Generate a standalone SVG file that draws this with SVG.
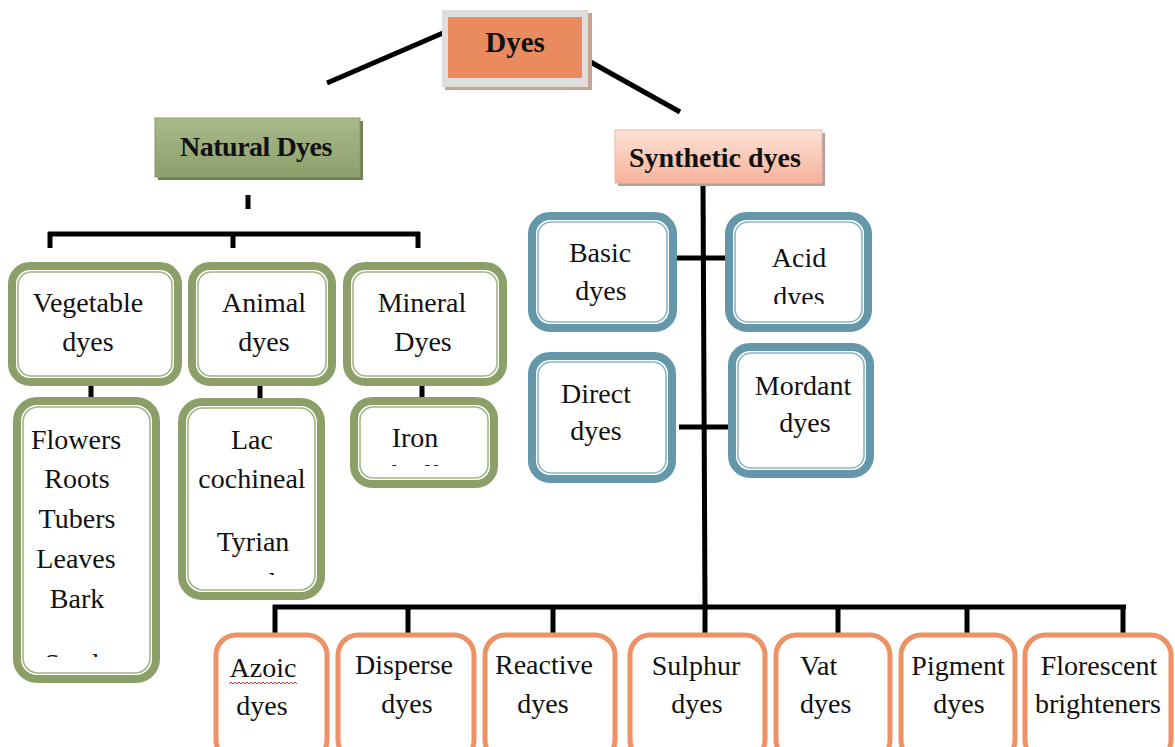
<svg xmlns="http://www.w3.org/2000/svg" width="1175" height="747" viewBox="0 0 1175 747">
<style>
.t{font-family:"Liberation Serif","Times New Roman",serif;font-size:28px;fill:#111;text-anchor:middle}
.ts{font-family:"Liberation Serif","Times New Roman",serif;font-size:28px;fill:#111;text-anchor:start}
.tb{font-family:"Liberation Serif","Times New Roman",serif;font-size:28px;font-weight:bold;fill:#111;text-anchor:middle}
.g{fill:#fff;stroke:#8d9f68;stroke-width:8}
.gi{fill:none;stroke:#a3b385;stroke-width:1.6}
.b{fill:#fff;stroke:#6497a9;stroke-width:8}
.bi{fill:none;stroke:#8ab5c4;stroke-width:1.6}
.o{fill:#fff;stroke:#ee9266;stroke-width:5}
.ln{stroke:#000;stroke-width:5;fill:none}
</style>
<defs>
<linearGradient id="gn" x1="0" y1="0" x2="0" y2="1"><stop offset="0" stop-color="#a9ba8c"/><stop offset="1" stop-color="#8d9f6b"/></linearGradient>
<linearGradient id="gs" x1="0" y1="0" x2="0" y2="1"><stop offset="0" stop-color="#fde3d8"/><stop offset="1" stop-color="#f5b199"/></linearGradient>
<clipPath id="cAcid"><rect x="730" y="220" width="140" height="84"/></clipPath>
<clipPath id="cVeg"><rect x="17" y="401" width="140" height="256"/></clipPath>
<clipPath id="cAni"><rect x="182" y="402" width="140" height="173"/></clipPath>
<clipPath id="cMin"><rect x="354" y="401" width="140" height="65"/></clipPath>
</defs>

<g id="connectors">
<line class="ln" x1="443" y1="33" x2="327" y2="83"/>
<line class="ln" x1="587" y1="60" x2="680" y2="112"/>
<line class="ln" x1="248" y1="195" x2="248" y2="209"/>
<line class="ln" x1="48" y1="234" x2="420" y2="234"/>
<line class="ln" x1="50" y1="232" x2="50" y2="248"/>
<line class="ln" x1="233" y1="232" x2="233" y2="248"/>
<line class="ln" x1="418" y1="232" x2="418" y2="248"/>
<line class="ln" x1="91" y1="383" x2="91" y2="400"/>
<line class="ln" x1="260" y1="383" x2="260" y2="400"/>
<line class="ln" x1="422" y1="383" x2="422" y2="400"/>
<line class="ln" x1="703" y1="183" x2="705" y2="607"/>
<line class="ln" x1="672" y1="258" x2="729" y2="258"/>
<line class="ln" x1="679" y1="427" x2="738" y2="427"/>
<line class="ln" x1="273" y1="607" x2="1126" y2="607"/>
<line class="ln" x1="275" y1="605" x2="275" y2="633"/>
<line class="ln" x1="408" y1="605" x2="408" y2="633"/>
<line class="ln" x1="553" y1="605" x2="553" y2="633"/>
<line class="ln" x1="705" y1="605" x2="705" y2="633"/>
<line class="ln" x1="838" y1="605" x2="838" y2="633"/>
<line class="ln" x1="967" y1="605" x2="967" y2="633"/>
<line class="ln" x1="1123" y1="605" x2="1123" y2="633"/>
</g>

<g id="dyes">
<rect x="445" y="13" width="147" height="77" fill="#c4a594"/>
<rect x="442" y="10" width="146" height="77" fill="#dedede"/>
<rect x="448" y="17" width="134" height="61" fill="#e98a5f"/>
<text class="tb" x="515" y="52" style="font-size:29px">Dyes</text>
</g>

<g id="natural">
<rect x="158" y="121" width="205" height="59" fill="#6f7f52"/>
<rect x="155" y="118" width="205" height="59" fill="url(#gn)" stroke="#88996a" stroke-width="1"/>
<text class="tb" x="256" y="156" letter-spacing="-0.5">Natural Dyes</text>
</g>

<g id="synthetic">
<rect x="618" y="133" width="207" height="53" fill="#b0a29c"/>
<rect x="615" y="130" width="207" height="53" fill="url(#gs)" stroke="#f2b8a2" stroke-width="1"/>
<text class="tb" x="715" y="167">Synthetic dyes</text>
</g>

<g id="vegetable">
<rect class="g" x="12" y="266" width="166" height="116" rx="18"/>
<rect class="gi" x="18" y="272" width="154" height="104" rx="13"/>
<text class="t" x="88" y="312">Vegetable</text>
<text class="t" x="88" y="351">dyes</text>
</g>
<g id="animal">
<rect class="g" x="192" y="266" width="140" height="116" rx="18"/>
<rect class="gi" x="198" y="272" width="128" height="104" rx="13"/>
<text class="t" x="264" y="312">Animal</text>
<text class="t" x="264" y="351">dyes</text>
</g>
<g id="mineral">
<rect class="g" x="347" y="266" width="156" height="116" rx="18"/>
<rect class="gi" x="353" y="272" width="144" height="104" rx="13"/>
<text class="t" x="422" y="312">Mineral</text>
<text class="t" x="423" y="351">Dyes</text>
</g>

<g id="vegetable-list">
<rect class="g" x="17" y="401" width="139" height="278" rx="20"/>
<rect class="gi" x="23" y="407" width="127" height="266" rx="15"/>
<g clip-path="url(#cVeg)">
<text class="t" x="76" y="449">Flowers</text>
<text class="t" x="77" y="488">Roots</text>
<text class="t" x="77" y="528">Tubers</text>
<text class="t" x="76" y="568">Leaves</text>
<text class="t" x="77" y="608">Bark</text>
<text class="t" x="77" y="673">Seeds</text>
</g>
</g>
<g id="animal-list">
<rect class="g" x="182" y="402" width="139" height="194" rx="20"/>
<rect class="gi" x="188" y="408" width="127" height="182" rx="15"/>
<g clip-path="url(#cAni)">
<text class="t" x="252" y="449">Lac</text>
<text class="t" x="252" y="488">cochineal</text>
<text class="t" x="253" y="551">Tyrian</text>
<text class="t" x="253" y="592">purple</text>
</g>
</g>
<g id="mineral-list">
<rect class="g" x="354" y="401" width="140" height="83" rx="18"/>
<rect class="gi" x="360" y="407" width="128" height="71" rx="13"/>
<g clip-path="url(#cMin)">
<text class="t" x="415" y="447">Iron</text>
<text class="t" x="415" y="484">buff</text>
</g>
</g>

<g id="basic">
<rect class="b" x="532" y="216" width="141" height="112" rx="18"/>
<rect class="bi" x="538" y="222" width="129" height="100" rx="13"/>
<text class="t" x="600" y="262">Basic</text>
<text class="t" x="601" y="300">dyes</text>
</g>
<g id="acid">
<rect class="b" x="729" y="216" width="139" height="112" rx="18"/>
<rect class="bi" x="735" y="222" width="127" height="100" rx="13"/>
<g clip-path="url(#cAcid)">
<text class="t" x="799" y="267">Acid</text>
<text class="t" x="799" y="306">dyes</text>
</g>
</g>
<g id="direct">
<rect class="b" x="532" y="356" width="140" height="123" rx="18"/>
<rect class="bi" x="538" y="362" width="128" height="111" rx="13"/>
<text class="t" x="596" y="403">Direct</text>
<text class="t" x="596" y="440">dyes</text>
</g>
<g id="mordant">
<rect class="b" x="732" y="347" width="138" height="127" rx="18"/>
<rect class="bi" x="738" y="353" width="126" height="115" rx="13"/>
<text class="t" x="803" y="395">Mordant</text>
<text class="t" x="805" y="432">dyes</text>
</g>

<g id="azoic">
<rect class="o" x="216" y="635" width="111" height="125" rx="20"/>
<text class="t" x="263" y="677">Azoic</text>
<path d="M229 684 l2 -2 l2 2 l2 -2 l2 2 l2 -2 l2 2 l2 -2 l2 2 l2 -2 l2 2 l2 -2 l2 2 l2 -2 l2 2 l2 -2 l2 2 l2 -2 l2 2 l2 -2 l2 2 l2 -2 l2 2 l2 -2 l2 2 l2 -2 l2 2 l2 -2 l2 2 l2 -2 l2 2 l2 -2 l2 2 l2 -2 l2 2" fill="none" stroke="#e03a3a" stroke-width="1"/>
<text class="t" x="262" y="715">dyes</text>
</g>
<g id="disperse">
<rect class="o" x="338" y="635" width="136" height="125" rx="20"/>
<text class="t" x="404" y="674">Disperse</text>
<text class="t" x="407" y="713">dyes</text>
</g>
<g id="reactive">
<rect class="o" x="485" y="635" width="130" height="125" rx="20"/>
<text class="t" x="544" y="674">Reactive</text>
<text class="t" x="543" y="713">dyes</text>
</g>
<g id="sulphur">
<rect class="o" x="630" y="635" width="135" height="125" rx="20"/>
<text class="t" x="696" y="675">Sulphur</text>
<text class="t" x="697" y="713">dyes</text>
</g>
<g id="vat">
<rect class="o" x="776" y="635" width="114" height="125" rx="20"/>
<text class="ts" x="800" y="675">Vat</text>
<text class="ts" x="800" y="713">dyes</text>
</g>
<g id="pigment">
<rect class="o" x="901" y="635" width="114" height="125" rx="20"/>
<text class="t" x="958" y="675">Pigment</text>
<text class="t" x="959" y="713">dyes</text>
</g>
<g id="florescent">
<rect class="o" x="1025" y="635" width="146" height="125" rx="20"/>
<text class="t" x="1099" y="675">Florescent</text>
<text class="t" x="1098" y="713">brighteners</text>
</g>
</svg>
